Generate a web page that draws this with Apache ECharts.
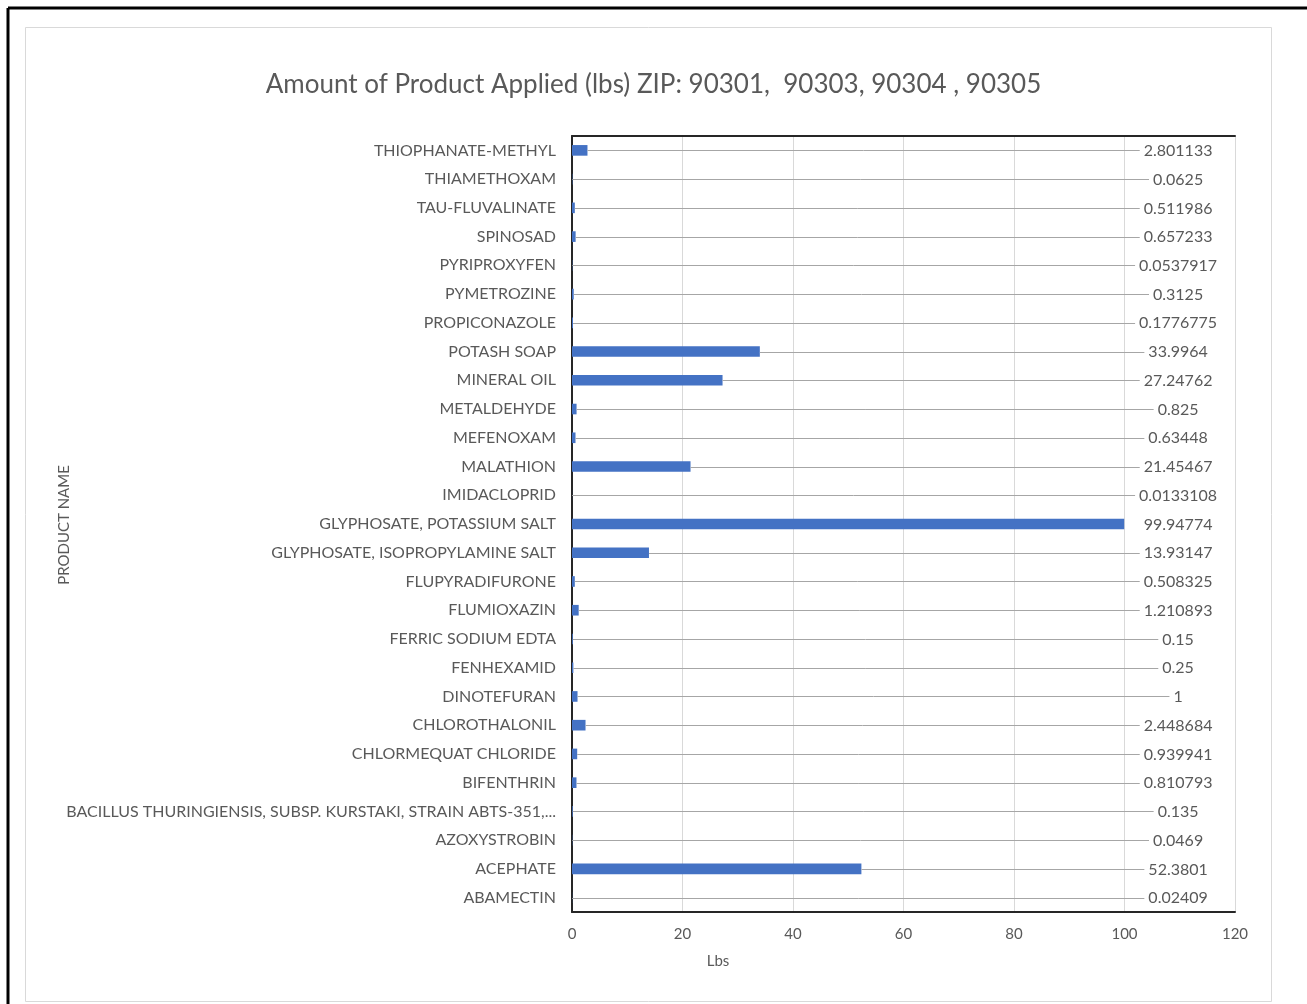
<!DOCTYPE html>
<html>
<head>
<meta charset="utf-8">
<title>Amount of Product Applied (lbs)</title>
<script src="https://cdn.jsdelivr.net/npm/echarts@6/dist/echarts.min.js"></script>
<style>
  html, body { margin: 0; padding: 0; background: #ffffff; }
  #chart { width: 1307px; height: 1004px; }
</style>
</head>
<body>
<div id="chart"></div>
<script>
// Products, listed bottom to top on the category axis
const products = [
  'ABAMECTIN',
  'ACEPHATE',
  'AZOXYSTROBIN',
  'BACILLUS THURINGIENSIS, SUBSP. KURSTAKI, STRAIN ABTS-351,...',
  'BIFENTHRIN',
  'CHLORMEQUAT CHLORIDE',
  'CHLOROTHALONIL',
  'DINOTEFURAN',
  'FENHEXAMID',
  'FERRIC SODIUM EDTA',
  'FLUMIOXAZIN',
  'FLUPYRADIFURONE',
  'GLYPHOSATE, ISOPROPYLAMINE SALT',
  'GLYPHOSATE, POTASSIUM SALT',
  'IMIDACLOPRID',
  'MALATHION',
  'MEFENOXAM',
  'METALDEHYDE',
  'MINERAL OIL',
  'POTASH SOAP',
  'PROPICONAZOLE',
  'PYMETROZINE',
  'PYRIPROXYFEN',
  'SPINOSAD',
  'TAU-FLUVALINATE',
  'THIAMETHOXAM',
  'THIOPHANATE-METHYL'
];

// Pounds applied per product
const poundsApplied = [
  0.02409,
  52.3801,
  0.0469,
  0.135,
  0.810793,
  0.939941,
  2.448684,
  1,
  0.25,
  0.15,
  1.210893,
  0.508325,
  13.93147,
  99.94774,
  0.0133108,
  21.45467,
  0.63448,
  0.825,
  27.24762,
  33.9964,
  0.1776775,
  0.3125,
  0.0537917,
  0.657233,
  0.511986,
  0.0625,
  2.801133
];

// Value axis ticks
const xTicks = [0, 20, 40, 60, 80, 100, 120];

const titleText = 'Amount of Product Applied (lbs) ZIP: 90301,  90303, 90304 , 90305';

// Layout / style settings
const FONT = 'Lato, "Open Sans", sans-serif';
const TEXT_COLOR = '#595959';
const BAR_COLOR = '#4472C4';
const LEADER_COLOR = '#A6A6A6';
const LABEL_CENTER = 109.7;   // value-axis position where the value labels are centred
const LABEL_FONT = '16px Lato';

const measureCtx = document.createElement('canvas').getContext('2d');
function textWidth(str, font) {
  measureCtx.font = font;
  return measureCtx.measureText(str).width;
}

const chart = echarts.init(document.getElementById('chart'), null, { renderer: 'canvas' });

const option = {
  animation: false,
  backgroundColor: '#ffffff',
  textStyle: { fontFamily: FONT },
  title: {
    text: titleText,
    left: 'center',
    top: 67,
    textStyle: { fontFamily: FONT, fontSize: 26, fontWeight: 'normal', color: TEXT_COLOR }
  },
  grid: { left: 572, top: 136, right: 72, bottom: 92, containLabel: false },
  xAxis: [
    {
      type: 'value',
      min: xTicks[0],
      max: xTicks[xTicks.length - 1],
      interval: xTicks[1] - xTicks[0],
      position: 'bottom',
      axisLine: { show: true, lineStyle: { color: '#262626', width: 2 } },
      axisTick: { show: false },
      axisLabel: { margin: 15, color: TEXT_COLOR, fontSize: 15, fontFamily: FONT },
      splitLine: { show: true, lineStyle: { color: '#D9D9D9', width: 1 } }
    },
    {
      type: 'value',
      min: xTicks[0],
      max: xTicks[xTicks.length - 1],
      position: 'top',
      axisLine: { show: true, lineStyle: { color: '#262626', width: 2 } },
      axisTick: { show: false },
      axisLabel: { show: false },
      splitLine: { show: false }
    }
  ],
  yAxis: [
    {
      type: 'category',
      data: products,
      position: 'left',
      axisLine: { show: true, lineStyle: { color: '#A6A6A6', width: 1 } },
      axisTick: { show: false },
      axisLabel: { margin: 16, color: TEXT_COLOR, fontSize: 16, fontFamily: FONT, interval: 0 },
      splitLine: { show: false }
    },
    {
      type: 'category',
      data: products,
      position: 'right',
      axisLine: { show: true, lineStyle: { color: '#262626', width: 2 } },
      axisTick: { show: false },
      axisLabel: { show: false },
      splitLine: { show: false }
    }
  ],
  graphic: [
    {
      type: 'line',
      shape: { x1: 8, y1: 8, x2: 1307, y2: 8 },
      style: { stroke: '#000000', lineWidth: 3 },
      silent: true
    },
    {
      type: 'line',
      shape: { x1: 8, y1: 8, x2: 8, y2: 1004 },
      style: { stroke: '#000000', lineWidth: 3 },
      silent: true
    },
    {
      type: 'rect',
      shape: { x: 25.5, y: 27.5, width: 1246, height: 974 },
      style: { fill: null, stroke: '#D9D9D9', lineWidth: 1 },
      silent: true
    },
    {
      type: 'text',
      x: 64,
      y: 525,
      rotation: Math.PI / 2,
      style: {
        text: 'PRODUCT NAME',
        fill: TEXT_COLOR,
        font: '15px Lato',
        textAlign: 'center',
        textVerticalAlign: 'middle'
      },
      silent: true
    },
    {
      type: 'text',
      x: 718,
      y: 961,
      style: {
        text: 'Lbs',
        fill: TEXT_COLOR,
        font: '15px Lato',
        textAlign: 'center',
        textVerticalAlign: 'middle'
      },
      silent: true
    }
  ],
  series: [
    {
      name: 'Lbs',
      type: 'bar',
      xAxisIndex: 0,
      yAxisIndex: 0,
      data: poundsApplied,
      barWidth: '37%',
      itemStyle: { color: BAR_COLOR },
      label: { show: false }
    },
    {
      // leader line from each bar end to its value label
      name: 'values',
      type: 'custom',
      xAxisIndex: 0,
      yAxisIndex: 0,
      data: poundsApplied.map((v, i) => [v, i]),
      encode: { x: 0, y: 1 },
      z: 5,
      renderItem: function (params, api) {
        const v = api.value(0);
        const idx = api.value(1);
        const end = api.coord([v, idx]);
        const cx = api.coord([LABEL_CENTER, idx])[0];
        const y = Math.round(end[1]) + 0.5;
        const txt = String(v);
        const w = textWidth(txt, LABEL_FONT);
        const lineEnd = cx - w / 2 - 4;
        const children = [];
        if (lineEnd - end[0] > 20) {
          children.push({
            type: 'line',
            shape: { x1: end[0], y1: y, x2: lineEnd, y2: y },
            style: { stroke: LEADER_COLOR, lineWidth: 1 }
          });
        }
        children.push({
          type: 'text',
          x: cx,
          y: end[1] + 0.5,
          style: {
            text: txt,
            fill: TEXT_COLOR,
            font: LABEL_FONT,
            textAlign: 'center',
            textVerticalAlign: 'middle'
          }
        });
        return { type: 'group', children: children };
      }
    }
  ]
};

chart.setOption(option);
</script>
</body>
</html>
